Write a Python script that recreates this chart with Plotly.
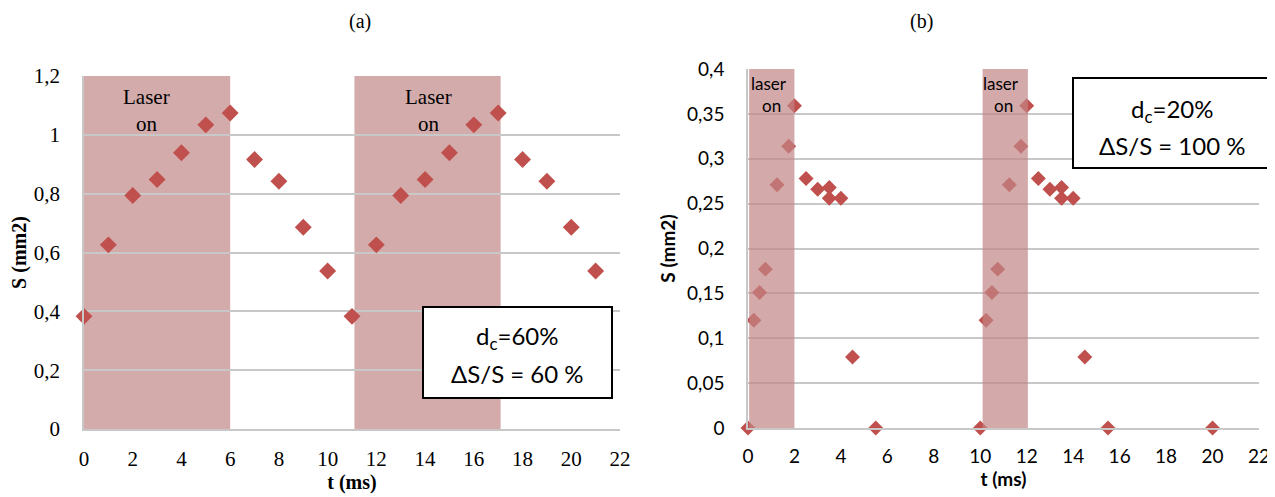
import plotly.graph_objects as go
from plotly.subplots import make_subplots

# (a) duty cycle 60 %
t_a = [0, 1, 2, 3, 4, 5, 6, 7, 8, 9, 10,
       11, 12, 13, 14, 15, 16, 17, 18, 19, 20, 21]
s_a = [0.383, 0.626, 0.794, 0.848, 0.939, 1.034, 1.074, 0.916, 0.842, 0.686, 0.537,
       0.383, 0.626, 0.794, 0.848, 0.939, 1.034, 1.074, 0.916, 0.842, 0.686, 0.537]
laser_a_start = [0, 11.1]
laser_a_end = [6, 17.1]

# (b) duty cycle 20 %
t_b = [0, 0.25, 0.5, 0.75, 1.25, 1.75, 2, 2.5, 3, 3.5, 3.5, 4, 4.5, 5.5,
       10, 10.25, 10.5, 10.75, 11.25, 11.75, 12, 12.5, 13, 13.5, 13.5, 14, 14.5, 15.5,
       20]
s_b = [0, 0.12, 0.151, 0.177, 0.271, 0.314, 0.359, 0.278, 0.266, 0.268, 0.256, 0.256, 0.079, 0,
       0, 0.12, 0.151, 0.177, 0.271, 0.314, 0.359, 0.278, 0.266, 0.268, 0.256, 0.256, 0.079, 0,
       0]
laser_b_start = [0.05, 10.1]
laser_b_end = [2.0, 12.05]

xticks = [0, 2, 4, 6, 8, 10, 12, 14, 16, 18, 20, 22]
yticks_a = [0, 0.2, 0.4, 0.6, 0.8, 1.0, 1.2]
yticklabels_a = ["0", "0,2", "0,4", "0,6", "0,8", "1", "1,2"]
yticks_b = [0, 0.05, 0.1, 0.15, 0.2, 0.25, 0.3, 0.35, 0.4]
yticklabels_b = ["0", "0,05", "0,1", "0,15", "0,2", "0,25", "0,3", "0,35", "0,4"]

# the page body has an 8px margin, so the figure starts at (8, 8) in the window
OFF = 8
W, H = 1275 - OFF, 497 - OFF
RED = "#c0504d"
GRID = "#c8c8c8"
SERIF = "Liberation Serif"
SANS = "Lato"


def px(x):
    return (x - OFF) / W


def py(y):
    return 1 - (y - OFF) / H


fig = make_subplots(rows=1, cols=2)

fig.add_trace(go.Scatter(x=t_a, y=s_a, mode="markers", cliponaxis=False,
                         marker=dict(symbol="diamond", size=13, color=RED),
                         showlegend=False, hoverinfo="x+y"), 1, 1)
fig.add_trace(go.Scatter(x=t_b, y=s_b, mode="markers", cliponaxis=False,
                         marker=dict(symbol="diamond", size=11.5, color=RED),
                         showlegend=False, hoverinfo="x+y"), 1, 2)

# laser-on windows
for x0, x1 in zip(laser_a_start, laser_a_end):
    fig.add_shape(type="rect", xref="x", yref="y", x0=x0, x1=x1, y0=0, y1=1.2,
                  fillcolor="rgba(180,110,110,0.58)", line_width=0, layer="below")
for x0, x1 in zip(laser_b_start, laser_b_end):
    fig.add_shape(type="rect", xref="x2", yref="y2", x0=x0, x1=x1, y0=0, y1=0.4,
                  fillcolor="rgba(194,132,132,0.7)", line_width=0, layer="above")

# info boxes
fig.add_shape(type="rect", xref="paper", yref="paper",
              x0=px(423), x1=px(612), y0=py(398), y1=py(307),
              line=dict(color="black", width=2), fillcolor="white", layer="above")
fig.add_shape(type="rect", xref="paper", yref="paper",
              x0=px(1073), x1=px(1272), y0=py(168), y1=py(78),
              line=dict(color="black", width=2), fillcolor="white", layer="above")

box_font = dict(family=SANS, size=24, color="black")
notes = [
    ("d<sub>c</sub>=60%", 517, 337),
    ("ΔS/S = 60 %", 517, 373),
    ("d<sub>c</sub>=20%", 1172, 110),
    ("ΔS/S = 100 %", 1172, 145),
]
for txt, x, y in notes:
    fig.add_annotation(text=txt, x=px(x), y=py(y), xref="paper", yref="paper",
                       xanchor="center", yanchor="middle",
                       showarrow=False, font=box_font)

# laser labels
for x in [2.58, 14.15]:
    fig.add_annotation(text="Laser", x=x, y=1.13, xref="x", yref="y", showarrow=False,
                       font=dict(family=SERIF, size=21, color="black"))
    fig.add_annotation(text="on", x=x, y=1.037, xref="x", yref="y", showarrow=False,
                       font=dict(family=SERIF, size=21, color="black"))
for x in [0.0, 10.0]:
    fig.add_annotation(text="laser", x=x + 0.89, y=0.384, xref="x2", yref="y2", showarrow=False,
                       font=dict(family=SANS, size=17, color="black"))
    fig.add_annotation(text="on", x=x + 1.02, y=0.359, xref="x2", yref="y2", showarrow=False,
                       font=dict(family=SANS, size=17, color="black"))

# panel titles
fig.add_annotation(text="(a)", x=px(360), y=py(21), xref="paper", yref="paper",
                   xanchor="center", yanchor="middle",
                   showarrow=False, font=dict(family=SERIF, size=20, color="black"))
fig.add_annotation(text="(b)", x=px(921), y=py(21), xref="paper", yref="paper",
                   xanchor="center", yanchor="middle",
                   showarrow=False, font=dict(family=SERIF, size=20, color="black"))

axis_common = dict(showgrid=True, gridcolor=GRID, gridwidth=1.5, zeroline=False,
                   showline=True, linecolor=GRID, linewidth=1.5, ticks="",
                   automargin=False)

fig.update_xaxes(axis_common)
fig.update_yaxes(axis_common)

fig.update_layout(
    xaxis=dict(domain=[px(84), px(620)], range=[0, 22], tickvals=xticks, showgrid=False,
               tickfont=dict(family=SERIF, size=21, color="black"), ticklabelstandoff=10,
               title=dict(text="<b>t (ms)</b>", font=dict(family=SERIF, size=20, color="black"),
                          standoff=5)),
    yaxis=dict(domain=[py(429), py(76)], range=[0, 1.2], tickvals=yticks_a, ticktext=yticklabels_a,
               tickfont=dict(family=SERIF, size=21, color="black"), ticklabelstandoff=18,
               title=dict(text="<b>S (mm2)</b>", font=dict(family=SERIF, size=20, color="black"),
                          standoff=5)),
    xaxis2=dict(domain=[px(748), px(1259)], range=[0, 22], tickvals=xticks, showgrid=False,
                tickfont=dict(family=SANS, size=19, color="black"), ticklabelstandoff=10,
                title=dict(text="<b>t (ms)</b>", font=dict(family=SANS, size=19, color="black"),
                           standoff=5)),
    yaxis2=dict(domain=[py(428), py(69)], range=[0, 0.4], tickvals=yticks_b, ticktext=yticklabels_b,
                tickfont=dict(family=SANS, size=19, color="black"), ticklabelstandoff=18,
                title=dict(text="<b>S (mm2)</b>", font=dict(family=SANS, size=19, color="black"),
                           standoff=6)),
    width=W, height=H,
    margin=dict(l=0, r=0, t=0, b=0),
    plot_bgcolor="white", paper_bgcolor="white",
)

fig.write_html("out.html")
